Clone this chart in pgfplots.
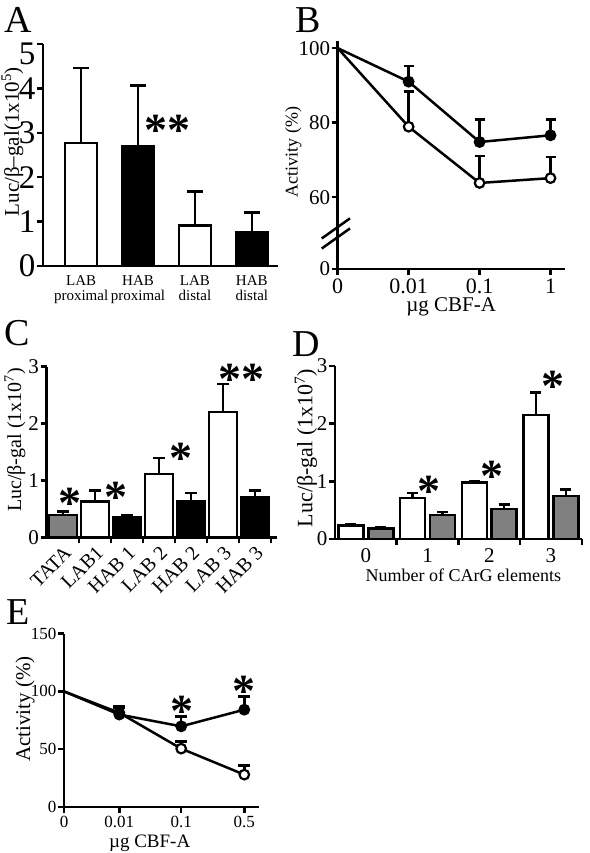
\documentclass[border=0pt]{standalone}
\usepackage{fontspec}
\setmainfont{Liberation Serif}
\usepackage{pgfplots}
\pgfplotsset{compat=1.18}
\newcommand{\fs}[1]{\fontsize{#1}{#1}\selectfont}
\tikzset{mystar/.style={font=\bfseries\fs{46}, anchor=base, yshift=-22pt, inner sep=0pt}}
\pgfplotsset{
  panel/.style={
    scale only axis,
    axis lines=left,
    axis line style={line width=2.5pt, -},
    every tick/.style={line width=2.5pt, black},
    tick align=outside,
    major tick length=6pt,
    minor tick length=6pt,
    /pgf/number format/assume math mode=true,
    enlargelimits=false,
    clip=false,
    yticklabel style={inner sep=1.5pt},
  },
  ebar/.style={error bars/y dir=plus, error bars/y explicit,
    error bars/error bar style={line width=2.5pt, black, solid},
    error bars/error mark options={rotate=90, mark size=#1, line width=2.5pt, black, solid}},
  pline/.style={line width=2.5pt, black, mark=none},
  popen/.style={only marks, mark=*, mark size=4.8pt, mark options={fill=white, draw=black, line width=2.2pt}},
  pfill/.style={only marks, mark=*, mark size=4.8pt, mark options={fill=black, draw=black, line width=2.2pt}},
}
\begin{document}
\begin{tikzpicture}
\useasboundingbox (0pt,0pt) rectangle (589pt,-853pt);
% panel letters
\node[font=\fs{38}, inner sep=0pt] at (18pt,-20pt) {A};
\node[font=\fs{38}, inner sep=0pt] at (308pt,-20pt) {B};
\node[font=\fs{38}, inner sep=0pt] at (17pt,-333pt) {C};
\node[font=\fs{38}, inner sep=0pt] at (306pt,-344pt) {D};
\node[font=\fs{38}, inner sep=0pt] at (18pt,-612pt) {E};

% ---------------- Panel A ----------------
\begin{axis}[panel, at={(43pt,-266pt)}, anchor=south west, width=235pt, height=222pt,
  xmin=-0.67, xmax=3.46, ymin=0, ymax=5,
  ytick={0,1,2,3,4}, yticklabel style={font=\fs{33}},
  extra y ticks={5}, extra y tick style={yticklabel style={yshift=-10pt}},
  xtick={0,1,2,3}, xticklabels={{LAB\\proximal},{HAB\\proximal},{LAB\\distal},{HAB\\distal}},
  xticklabel style={font=\fs{15}, align=center},
  major x tick style={draw=none},
  ylabel={Luc/β–gal(1x10\textsuperscript{5})},
  ylabel style={font=\fs{21}, inner sep=1pt, at={(axis description cs:-0.13,0.56)}, anchor=center}]
\addplot[ybar, bar width=32pt, bar shift=0pt, fill=white, draw=black, line width=2.5pt, ebar=8pt]
  table[x=x, y=y, y error=e] {
x y e
0 2.77 1.69
2 0.91 0.77
};
\addplot[ybar, bar width=32pt, bar shift=0pt, fill=black, draw=black, line width=2.5pt, ebar=8pt]
  table[x=x, y=y, y error=e] {
x y e
1 2.69 1.37
3 0.77 0.44
};
\node[mystar] at (axis cs:1.52,3.22) {**};
\end{axis}

% ---------------- Panel B ----------------
\begin{axis}[panel, at={(337.7pt,-269pt)}, anchor=south west, width=227pt, height=228.3pt,
  xmin=0, xmax=3.2, ymin=40.7, ymax=102,
  ytick={40.7,60,80,100}, yticklabels={0,60,80,100}, yticklabel style={font=\fs{21}},
  xtick={0,1,2,3}, xticklabels={0,0.01,0.1,1}, xticklabel style={font=\fs{22}},
  xlabel={µg CBF-A}, xlabel style={font=\fs{21}, at={(axis description cs:0.5,-0.166)}, anchor=center},
  ylabel={Activity (\%)}, ylabel style={font=\fs{18}, at={(axis description cs:-0.195,0.512)}, anchor=center}]
\addplot[pline] coordinates {(0,100) (1,78.9) (2,63.8) (3,65.1)};
\addplot[pline] coordinates {(0,100) (1,91.0) (2,74.8) (3,76.6)};
\addplot[popen, ebar=5pt] table[x=x, y=y, y error=e] {
x y e
1 78.9 9.4
2 63.8 7.2
3 65.1 5.7
};
\addplot[pfill, ebar=5pt] table[x=x, y=y, y error=e] {
x y e
1 91.0 4.2
2 74.8 6.1
3 76.6 4.3
};
\draw[line width=2.5pt] (axis cs:-0.225,48.9) -- (axis cs:0.173,54.3);
\draw[line width=2.5pt] (axis cs:-0.225,46.2) -- (axis cs:0.173,51.6);
\end{axis}

% ---------------- Panel C ----------------
\begin{axis}[panel, at={(46.7pt,-537.3pt)}, anchor=south west, width=230pt, height=170.7pt,
  xmin=-0.51, xmax=6.68, ymin=0, ymax=3,
  ytick={0,1,2,3}, yticklabel style={font=\fs{21}},
  xtick={0,1,2,3,4,5,6}, xticklabels={TATA,LAB1,HAB 1,LAB 2,HAB 2,LAB 3,HAB 3},
  xticklabel style={font=\fs{20}, rotate=45, anchor=north east, inner sep=1pt},
  major x tick style={draw=none},
  minor xtick={0.5,1.5,2.5,3.5,4.5,5.5,6.5},
  ylabel={Luc/β-gal (1x10\textsuperscript{7})},
  ylabel style={font=\fs{20}, at={(axis description cs:-0.138,0.57)}, anchor=center}]
\addplot[ybar, bar width=28pt, bar shift=0pt, fill=gray, draw=black, line width=2.5pt, ebar=6pt]
  table[x=x, y=y, y error=e] {
x y e
0 0.39 0.06
};
\addplot[ybar, bar width=28pt, bar shift=0pt, fill=white, draw=black, line width=2.5pt, ebar=6pt]
  table[x=x, y=y, y error=e] {
x y e
1 0.63 0.19
3 1.11 0.28
5 2.20 0.49
};
\addplot[ybar, bar width=28pt, bar shift=0pt, fill=black, draw=black, line width=2.5pt, ebar=6pt]
  table[x=x, y=y, y error=e] {
x y e
2 0.36 0.03
4 0.64 0.14
6 0.70 0.12
};
\node[mystar] at (axis cs:0.22,0.71) {*};
\node[mystar] at (axis cs:1.66,0.83) {*};
\node[mystar] at (axis cs:3.69,1.50) {*};
\node[mystar] at (axis cs:5.58,2.89) {**};
\end{axis}

% ---------------- Panel D ----------------
\begin{axis}[panel, at={(335pt,-539pt)}, anchor=south west, width=246.8pt, height=173pt,
  xmin=-0.5, xmax=3.5, ymin=0, ymax=3,
  ytick={0,1,2,3}, yticklabel style={font=\fs{21}},
  xtick={0,1,2,3}, xticklabel style={font=\fs{21}},
  major x tick style={draw=none},
  minor xtick={0.5,1.5,2.5,3.5},
  xlabel={Number of CArG elements}, xlabel style={font=\fs{18}, at={(axis description cs:0.52,-0.208)}, anchor=center},
  ylabel={Luc/β-gal (1x10\textsuperscript{7})},
  ylabel style={font=\fs{22}, at={(axis description cs:-0.118,0.526)}, anchor=center}]
\addplot[ybar, bar width=25pt, bar shift=0pt, fill=white, draw=black, line width=2.5pt, ebar=5.5pt]
  table[x=x, y=y, y error=e] {
x y e
-0.243 0.23 0.03
0.757 0.71 0.09
1.757 0.98 0.03
2.757 2.15 0.39
};
\addplot[ybar, bar width=25pt, bar shift=0pt, fill=gray, draw=black, line width=2.5pt, ebar=5.5pt]
  table[x=x, y=y, y error=e] {
x y e
0.243 0.18 0.02
1.243 0.42 0.05
2.243 0.52 0.08
3.243 0.75 0.11
};
\node[mystar] at (axis cs:1.03,0.94) {*};
\node[mystar] at (axis cs:2.05,1.20) {*};
\node[mystar] at (axis cs:3.03,2.76) {*};
\end{axis}

% ---------------- Panel E ----------------
\begin{axis}[panel, at={(64pt,-807pt)}, anchor=south west, width=194.4pt, height=173.4pt,
  xmin=0, xmax=3.24, ymin=0, ymax=150,
  ytick={0,50,100,150}, yticklabel style={font=\fs{17}},
  xtick={0,0.92,1.95,3}, xticklabels={0,0.01,0.1,0.5}, xticklabel style={font=\fs{17}},
  xlabel={µg CBF-A}, xlabel style={font=\fs{19}, at={(axis description cs:0.44,-0.21)}, anchor=center},
  ylabel={Activity (\%)}, ylabel style={font=\fs{21}, at={(axis description cs:-0.2,0.565)}, anchor=center}]
\addplot[pline] coordinates {(0,100) (0.92,81.5) (1.95,50.5) (3,28)};
\addplot[pline] coordinates {(0,100) (0.92,80) (1.95,69.8) (3,84.2)};
\addplot[popen, ebar=6pt] table[x=x, y=y, y error=e] {
x y e
0.92 81.5 4
1.95 50.5 6.3
3 28 8
};
\addplot[pfill, ebar=6pt] table[x=x, y=y, y error=e] {
x y e
0.92 80 7
1.95 69.8 8.7
3 84.2 11.6
};
\node[mystar] at (axis cs:1.96,88.5) {*};
\node[mystar] at (axis cs:3.0,105.9) {*};
\end{axis}
\end{tikzpicture}
\end{document}
